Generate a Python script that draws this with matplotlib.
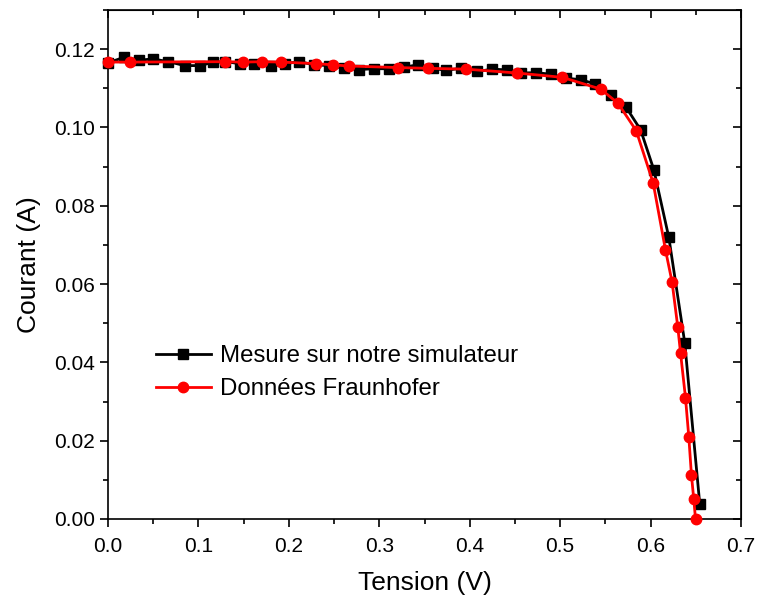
import matplotlib
matplotlib.use("Agg")
import matplotlib.pyplot as plt
from matplotlib.ticker import MultipleLocator, FormatStrFormatter

plt.rcParams['font.family'] = ['Liberation Sans', 'DejaVu Sans']

# Mesure sur notre simulateur
v_mes = [0.0, 0.0174, 0.0346, 0.050, 0.0666, 0.085, 0.1016, 0.1156, 0.1294, 0.1459,
         0.162, 0.1804, 0.196, 0.2117, 0.228, 0.2448, 0.2614, 0.278, 0.2946, 0.3111,
         0.3277, 0.3424, 0.359, 0.3737, 0.390, 0.4085, 0.4251, 0.4416, 0.4564, 0.473,
         0.4900, 0.506, 0.5227, 0.539, 0.5558, 0.5731, 0.589, 0.6036, 0.6202, 0.6378,
         0.6544]
i_mes = [0.1165, 0.1179, 0.1172, 0.1175, 0.1168, 0.1158, 0.1158, 0.1166, 0.1168, 0.1163,
         0.1162, 0.1156, 0.1163, 0.1168, 0.1160, 0.1158, 0.1151, 0.1148, 0.1150, 0.1150,
         0.1154, 0.1160, 0.1151, 0.1146, 0.1151, 0.1143, 0.1149, 0.1147, 0.1139, 0.1140,
         0.1136, 0.1126, 0.1122, 0.1111, 0.1083, 0.1051, 0.0994, 0.0892, 0.0719, 0.0450,
         0.0038]

# Données Fraunhofer
v_fra = [0.0, 0.024, 0.1289, 0.1498, 0.1705, 0.1915, 0.2301, 0.2485, 0.2662, 0.3202,
         0.3537, 0.3958, 0.4527, 0.5024, 0.5448, 0.5639, 0.5841, 0.6029, 0.6165, 0.6238,
         0.6301, 0.6331, 0.6386, 0.6423, 0.6452, 0.6478, 0.6497]
i_fra = [0.1167, 0.1167, 0.1168, 0.1167, 0.1168, 0.1167, 0.1163, 0.1160, 0.1157, 0.1153,
         0.1151, 0.1149, 0.1139, 0.1128, 0.1098, 0.1062, 0.0992, 0.0858, 0.0687, 0.0605,
         0.0490, 0.0425, 0.0310, 0.0209, 0.0112, 0.0050, 0.0000]

xticks = [0.0, 0.1, 0.2, 0.3, 0.4, 0.5, 0.6, 0.7]
yticks = [0.00, 0.02, 0.04, 0.06, 0.08, 0.10, 0.12]

fig = plt.figure(figsize=(7.58, 6.01), dpi=100)
ax = fig.add_axes([108 / 758, 1 - 519 / 601, (741 - 108) / 758, (519 - 10) / 601])

ax.plot(v_mes, i_mes, color='black', lw=2, marker='s', ms=6.5, clip_on=False,
        label='Mesure sur notre simulateur', zorder=3)
ax.plot(v_fra, i_fra, color='#ff0000', lw=2, marker='o', ms=7.5, clip_on=False,
        label='Données Fraunhofer', zorder=4)

ax.set_xlim(0, 0.7)
ax.set_ylim(0, 0.13)
ax.set_xticks(xticks)
ax.set_yticks(yticks)
ax.xaxis.set_major_formatter(FormatStrFormatter('%.1f'))
ax.yaxis.set_major_formatter(FormatStrFormatter('%.2f'))
ax.xaxis.set_minor_locator(MultipleLocator(0.05))
ax.yaxis.set_minor_locator(MultipleLocator(0.01))

ax.tick_params(which='both', direction='out', labelsize=15, width=1.2, colors='black')
ax.tick_params(which='major', length=6)
ax.tick_params(which='minor', length=3.5)
ax.tick_params(axis='x', which='major', pad=7)

# inward ticks on top and right
secx = ax.secondary_xaxis('top')
secx.set_xticks(xticks)
secx.xaxis.set_minor_locator(MultipleLocator(0.05))
secx.tick_params(which='both', direction='in', labeltop=False, width=1.2)
secx.tick_params(which='major', length=6)
secx.tick_params(which='minor', length=3.5)
secy = ax.secondary_yaxis('right')
secy.set_yticks(yticks)
secy.yaxis.set_minor_locator(MultipleLocator(0.01))
secy.tick_params(which='both', direction='in', labelright=False, width=1.2)
secy.tick_params(which='major', length=6)
secy.tick_params(which='minor', length=3.5)

for s in ax.spines.values():
    s.set_linewidth(1.2)

ax.set_xlabel('Tension (V)', fontsize=19, labelpad=11)
ax.set_ylabel('Courant (A)', fontsize=19, labelpad=9)

ax.legend(loc='upper left', bbox_to_anchor=(0.06, 0.36), frameon=False,
          fontsize=17.3, handlelength=2.3, handletextpad=0.4, labelspacing=0.45,
          borderaxespad=0)

fig.savefig('out.png', dpi=100)
